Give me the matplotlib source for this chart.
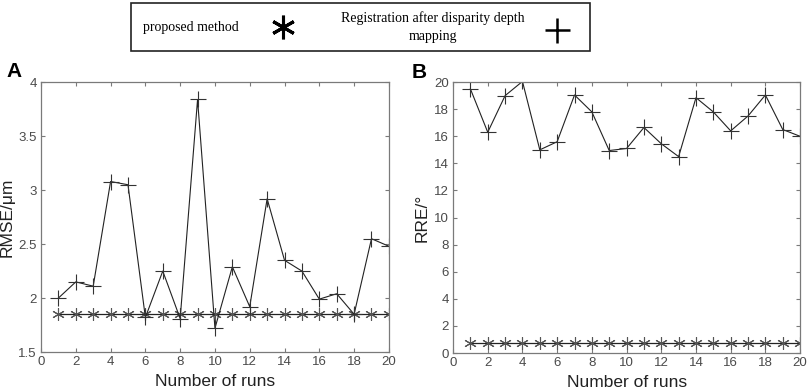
import numpy as np
import matplotlib
matplotlib.use('Agg')
import matplotlib.pyplot as plt
from matplotlib.patches import Rectangle
from matplotlib.lines import Line2D

runs = list(range(1, 21))

# panel A: RMSE (um)
rmse_disparity = [2.0, 2.15, 2.11, 3.08, 3.05, 1.82, 2.25, 1.81, 3.84, 1.72,
                  2.29, 1.92, 2.92, 2.35, 2.25, 1.99, 2.04, 1.85, 2.55, 2.48]
rmse_proposed = [1.85] * 20

# panel B: RRE (deg)
rre_disparity = [19.5, 16.3, 19.0, 20.05, 15.0, 15.6, 19.05, 17.8, 14.95, 15.1,
                 16.65, 15.45, 14.5, 18.85, 17.8, 16.4, 17.5, 19.05, 16.5, 16.0]
rre_proposed = [0.75] * 20

grey = '#7a7a7a'
asterisk = (6, 2, 0)
plt.rcParams['font.family'] = ['Liberation Sans', 'DejaVu Sans']

fig = plt.figure(figsize=(8.09, 3.91), dpi=100, facecolor='w')

def setup_axes(ax, ylim, yticks, ylabel):
    ax.set_xlim(0, 20)
    ax.set_ylim(*ylim)
    ax.set_xticks(range(0, 21, 2))
    ax.set_yticks(yticks)
    ax.tick_params(direction='in', length=3, width=0.8, colors=grey,
                   labelsize=9.5, labelcolor='#4a4a4a', top=True, right=True,
                   labeltop=False, labelright=False, pad=3)
    for s in ax.spines.values():
        s.set_color(grey)
        s.set_linewidth(0.9)
    ax.set_xlabel('Number of runs', fontsize=12.5, labelpad=4, color='#222222')
    ax.set_ylabel(ylabel, fontsize=12.5, labelpad=3, color='#222222')

def draw_panel(ax, proposed, disparity):
    ax.plot(runs, proposed, color='#222222', lw=0.9, marker=asterisk,
            ms=9, mec='#555555', mew=0.8)
    ax.plot(runs, disparity, color='#222222', lw=0.8, marker='+',
            ms=11, mec='#333333', mew=0.8)

axA = fig.add_axes([0.0507, 0.0997, 0.430, 0.690])
draw_panel(axA, rmse_proposed, rmse_disparity)
setup_axes(axA, (1.5, 4), [1.5, 2, 2.5, 3, 3.5, 4], 'RMSE/\u03bcm')
axA.set_yticklabels(['1.5', '2', '2.5', '3', '3.5', '4'])

axB = fig.add_axes([0.560, 0.097, 0.429, 0.693])
draw_panel(axB, rre_proposed, rre_disparity)
setup_axes(axB, (0, 20), range(0, 21, 2), 'RRE/\u00b0')

fig.text(0.008, 0.817, 'A', fontsize=15, fontweight='bold', va='center')
fig.text(0.509, 0.815, 'B', fontsize=15, fontweight='bold', va='center')

# legend box drawn by hand
serif = ['Liberation Serif', 'DejaVu Serif']
fig.patches.append(Rectangle((131 / 809, 1 - 51 / 391), (590 - 131) / 809, (51 - 3) / 391,
                             transform=fig.transFigure, fill=False,
                             edgecolor='#222222', lw=1.2))
fig.text(143 / 809, 1 - 28 / 391, 'proposed method', family=serif,
         fontsize=10, va='center', ha='left')
fig.text(433 / 809, 1 - 27 / 391, 'Registration after disparity depth\nmapping',
         family=serif, fontsize=10, va='center', ha='center', linespacing=1.5)
fig.add_artist(Line2D([283 / 809], [1 - 27 / 391], transform=fig.transFigure,
                      marker=asterisk, ms=17, mew=2.2, color='black', ls='none'))
fig.add_artist(Line2D([557 / 809], [1 - 30 / 391], transform=fig.transFigure,
                      marker='+', ms=18, mew=1.8, color='black', ls='none'))

fig.savefig('out.png', dpi=100, facecolor='w')
